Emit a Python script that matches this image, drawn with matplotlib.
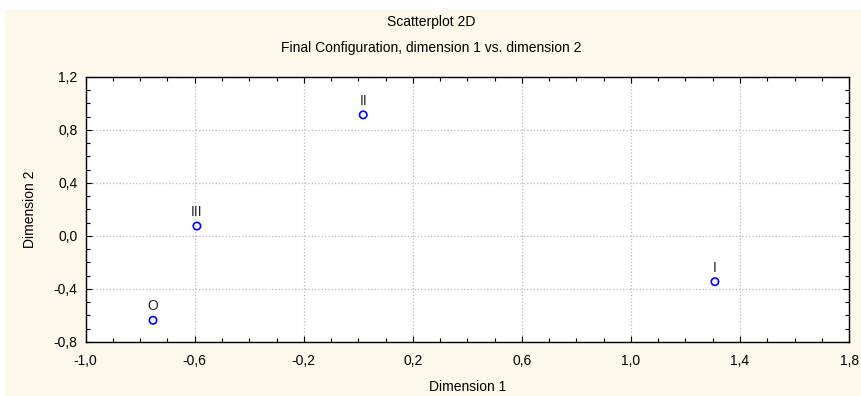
import matplotlib
matplotlib.use('Agg')
import numpy as np
from matplotlib import pyplot as plt
from matplotlib.patches import Rectangle
from matplotlib.ticker import MultipleLocator, FuncFormatter

# data
labels = ['I', 'II', 'III', 'O']
dim1 = [1.308, 0.018, -0.592, -0.753]
dim2 = [-0.345, 0.914, 0.075, -0.636]

title = 'Scatterplot 2D'
subtitle = 'Final Configuration, dimension 1 vs. dimension 2'

plt.rcParams['font.family'] = ['Liberation Sans', 'DejaVu Sans']
plt.rcParams['font.size'] = 10

fig = plt.figure(figsize=(8.62, 3.96), dpi=100, facecolor='white')
fig.patches.append(Rectangle((5 / 862, 0), 1, 1 - 10 / 396, transform=fig.transFigure,
                             facecolor='#fdf8ec', edgecolor='none', zorder=-1))

ax = fig.add_axes([0.0994, 0.1364, 0.8856, 0.6692])
ax.set_facecolor('white')
ax.scatter(dim1, dim2, s=28, facecolors='none', edgecolors='#0000ff', linewidths=1.2, zorder=3)
for x, y, t in zip(dim1, dim2, labels):
    ax.annotate(t, (x, y), xytext=(0, 5), textcoords='offset points',
                ha='center', va='bottom', fontsize=10, color='#222222')

ax.set_xlim(-1.0, 1.8)
ax.set_ylim(-0.8, 1.2)
ax.xaxis.set_major_locator(MultipleLocator(0.4, offset=0.2))
ax.yaxis.set_major_locator(MultipleLocator(0.4))
ax.xaxis.set_minor_locator(MultipleLocator(0.1))
ax.yaxis.set_minor_locator(MultipleLocator(0.1))
fmt = FuncFormatter(lambda v, p: ('%.1f' % v).replace('-0.0', '0.0').replace('.', ','))
ax.xaxis.set_major_formatter(fmt)
ax.yaxis.set_major_formatter(fmt)
ax.tick_params(which='both', direction='in', top=True, right=True, width=0.8, color='black')
ax.tick_params(which='major', length=4)
ax.tick_params(which='minor', length=3)
ax.tick_params(axis='x', which='major', pad=9)
ax.tick_params(axis='y', which='major', pad=6)
ax.grid(True, which='major', linestyle=':', color='#bbbbbb', linewidth=0.9)
for s in ax.spines.values():
    s.set_linewidth(1.0)

ax.set_xlabel('Dimension 1', labelpad=8)
ax.set_ylabel('Dimension 2', labelpad=12)
fig.text(0.5, 1 - 22 / 396, title, ha='center', va='center')
fig.text(0.5, 1 - 48 / 396, subtitle, ha='center', va='center')

fig.savefig('out.png', dpi=100, facecolor=fig.get_facecolor())
